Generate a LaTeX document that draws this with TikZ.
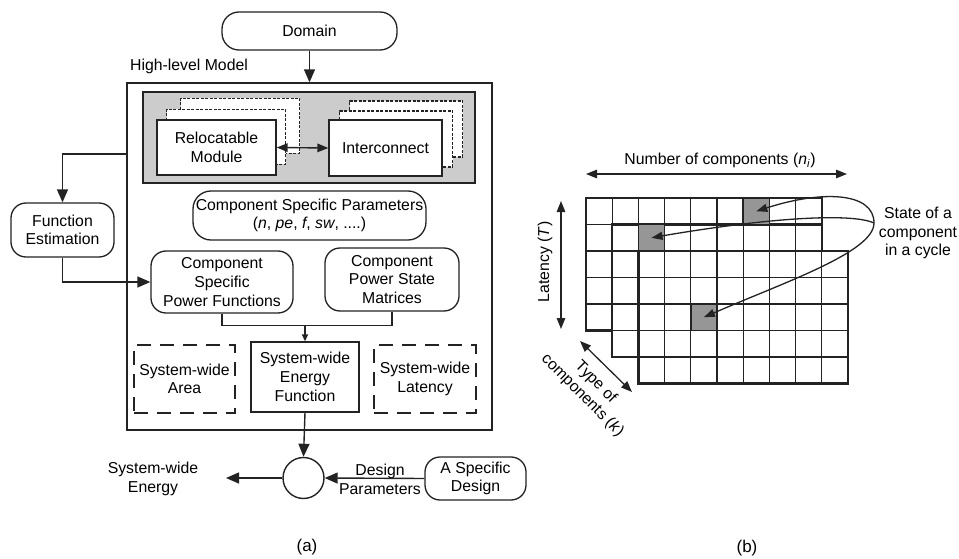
\documentclass[tikz,border=0pt]{standalone}
\usepackage{fontspec}
\setmainfont{Liberation Sans}
\usetikzlibrary{arrows.meta,calc}
\definecolor{boxgray}{RGB}{204,204,204}
\definecolor{cellgray}{RGB}{150,150,150}
\definecolor{ink}{RGB}{35,35,35}
\tikzset{
  bx/.style={draw=ink, line width=1.3pt, fill=white, align=center, inner sep=0pt},
  rbx/.style={bx, rounded corners=15pt},
  dbx/.style={bx, line width=2.2pt, dash pattern=on 14pt off 9pt},
  cpy/.style={bx, line width=1.2pt, dash pattern=on 3pt off 1.5pt},
  ar/.style={draw=ink, line width=1.4pt, -{Triangle[length=13pt,width=11pt]}},
  dar/.style={draw=ink, line width=1.3pt, {Triangle[length=11pt,width=8.5pt]}-{Triangle[length=11pt,width=8.5pt]}},
  car/.style={draw=ink, line width=1.3pt, -{Triangle[length=11pt,width=8pt]}},
  gline/.style={draw=ink, line width=1.1pt},
  gbord/.style={draw=ink, line width=2.2pt},
  shcell/.style={draw=ink, line width=1.5pt, fill=cellgray, minimum width=26.2pt, minimum height=26.5pt, inner sep=0pt},
}
\newcommand\mygrid[3]{%
  \fill[white] (#1,#2) rectangle ++({#3*26.2},{5*26.5});
  \foreach \k in {1,...,4} \draw[gline] (#1,{#2+\k*26.5}) -- ++({#3*26.2},0);
  \pgfmathtruncatemacro\mylastcol{#3-1}
  \foreach \k in {1,...,\mylastcol} \draw[gline] ({#1+\k*26.2},#2) -- ++(0,{5*26.5});
  \draw[gbord] (#1,#2) rectangle ++({#3*26.2},{5*26.5});
}
\begin{document}
\begin{tikzpicture}[x=1pt,y=-1pt,font=\fontsize{15.8}{18.7}\selectfont]
\useasboundingbox (0,0) rectangle (959,559);

% ---------------- (a) ----------------
\node[rbx, minimum width=175pt, minimum height=38pt, rounded corners=17pt] (dom) at (309.5,31) {Domain};
\node[anchor=west, inner sep=0pt] (hlm) at (130,66) {High-level Model};
\node[bx, minimum width=365pt, minimum height=347pt] (big) at (309.5,256.5) {};
\node[draw=ink, line width=1.3pt, fill=boxgray, minimum width=332pt, minimum height=91pt, inner sep=0pt] (gbox) at (309,137.5) {};

\node[cpy, minimum width=119pt, minimum height=55pt] (relocC) at (240,126) {};
\node[cpy, minimum width=119pt, minimum height=55pt] (relocB) at (226,137) {};
\node[bx, minimum width=119pt, minimum height=55pt] (reloc) at (216.5,147.5) {Relocatable\\Module};

\node[cpy, minimum width=113pt, minimum height=56pt] (interC) at (406,129) {};
\node[cpy, minimum width=113pt, minimum height=56pt] (interB) at (396,139) {};
\node[bx, minimum width=113pt, minimum height=56pt] (inter) at (385.5,148) {Interconnect};

\draw[dar, line width=1.4pt] (reloc.east) -- (inter.west);

\node[rbx, minimum width=103pt, minimum height=54pt] (fe) at (62.5,230) {Function\\Estimation};
\node[rbx, minimum width=233pt, minimum height=49pt, rounded corners=18pt] (csp) at (309.5,215.5)
  {Component Specific Parameters\\(\textit{n}, \textit{pe}, \textit{f}, \textit{sw}, ....)};
\node[rbx, minimum width=142pt, minimum height=62pt] (cspf) at (222,282) {Component\\Specific\\Power Functions};
\node[rbx, minimum width=134pt, minimum height=63pt] (cpsm) at (392,279.5) {Component\\Power State\\Matrices};

\node[dbx, minimum width=101pt, minimum height=68pt] (swa) at (184.5,379) {System-wide\\Area};
\node[bx, minimum width=108pt, minimum height=70pt] (swef) at (305,377) {System-wide\\Energy\\Function};
\node[dbx, minimum width=102pt, minimum height=68pt] (swl) at (425,379) {System-wide\\Latency};

\node[draw=ink, line width=1.4pt, circle, minimum size=41pt, inner sep=0pt] (circ) at (303.5,478) {};
\node[rbx, minimum width=101pt, minimum height=43pt] (asd) at (475.5,478.5) {A Specific\\Design};
\node[align=center, inner sep=0pt] (swe) at (153,479) {System-wide\\Energy};
\node[align=center, inner sep=0pt] (dp) at (380,479) {Design\\Parameters};
\coordinate (sweend) at (226,478);

\node (la) at (307,547) {\fontsize{17}{20}\selectfont (a)};
\node (lb) at (747,548) {\fontsize{17}{20}\selectfont (b)};

% connectors (a)
\draw[ar] (dom.south) -- (big.north);
\draw[ar] (big.north west |- 0,154) -| (fe.north);
\draw[ar] (fe.south) |- (cspf.west);
\draw[draw=ink, line width=1.3pt] (cspf.south) -- ++(0,12) -| (cpsm.south);
\draw[draw=ink, line width=1.3pt, -{Triangle[length=7pt,width=6pt]}] (swef.north |- 0,325) -- (swef.north);
\draw[ar] (swef.south) -- (circ.north);
\draw[ar] (circ.west) -- (sweend);
\draw[ar] (asd.west) -- (circ.east);

% ---------------- (b) ----------------
\mygrid{586}{198}{9}
\mygrid{612.2}{224.5}{8}
\mygrid{638.4}{251}{8}

\node[shcell] (s1) at (756.3,211.25) {};
\node[shcell] (s2) at (651.5,237.75) {};
\node[shcell] (s3) at (703.9,317.25) {};

\node[inner sep=0pt] (noc) at (720,160) {Number of components (\textit{n}\textsubscript{\textit{i}})};
\coordinate (nocL) at (586,174);
\coordinate (nocR) at (847,174);
\draw[dar] (nocL) -- (nocR);

\node[rotate=90, inner sep=0pt] (lat) at (545,262) {Latency (\textit{T})};
\coordinate (latT) at (561,201);
\coordinate (latB) at (561,329);
\draw[dar] (latT) -- (latB);

\node[rotate=-45, align=center, inner sep=0pt] (typ) at (589,389) {Type of\\components (\textit{k})};
\coordinate (typA) at (580,341);
\coordinate (typB) at (632,392);
\draw[dar] (typA) -- (typB);

\node[align=center, inner sep=0pt] (st) at (918,233) {State of a\\component\\in a cycle};
\coordinate (j) at (874,223);
\draw[car] (j) .. controls (874,192) and (822,190) .. (s1.center);
\draw[car] (j) .. controls (850,212) and (760,219) .. (s2.center);
\draw[car] (j) .. controls (874,252) and (785,282) .. (s3.center);
\end{tikzpicture}
\end{document}
